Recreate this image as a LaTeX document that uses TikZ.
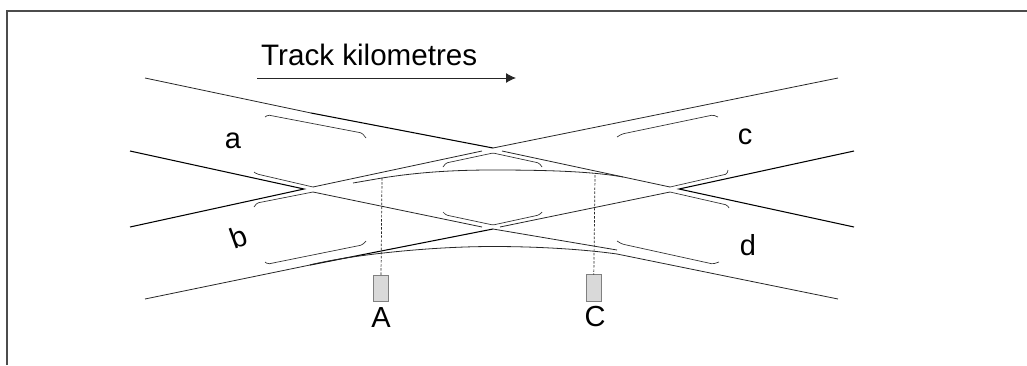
\documentclass[tikz,border=0pt]{standalone}
\usepackage{fontspec}
\setmainfont{Liberation Sans}
\usetikzlibrary{arrows.meta}
\tikzset{
  rail/.style={draw=black!85,line width=0.8pt,line join=round},
  heavyrail/.style={draw=black,line width=1.05pt,line join=miter},
  checkrail/.style={draw=black!80,line width=0.7pt,rounded corners=1.5pt},
  frameline/.style={draw=black!70,line width=1.8pt},
  signal/.style={draw=black!50,fill=black!15,line width=0.7pt,minimum width=15pt,minimum height=26.5pt,inner sep=0pt,outer sep=0pt,anchor=north west},
  drop/.style={draw=black!85,dashed,dash pattern=on 2.5pt off 1.6pt,line width=0.7pt},
  lab/.style={font=\fontsize{29}{32}\selectfont,inner sep=0pt,text=black},
  titlelab/.style={font=\fontsize{29.6}{32}\selectfont,inner sep=0pt,text=black},
  kmarrow/.style={draw=black!85,line width=1pt,-{Latex[length=10pt,width=10pt]}}
}
\begin{document}
\begin{tikzpicture}[x=1pt,y=-1pt]
\useasboundingbox (0,0) rectangle (1027,365);
% frame
\coordinate (fbl) at (7,365);
\coordinate (ftl) at (7,11);
\coordinate (ftr) at (1027,11);
\draw[frameline] (fbl) -- (ftl) -- (ftr);
% arrow and title
\coordinate (arrS) at (257,78);
\coordinate (arrE) at (516,78);
\draw[kmarrow] (arrS) -- (arrE);
\node[titlelab,anchor=base west] (title) at (261,65) {Track kilometres};
% key points
\coordinate (OTL) at (145,78);
\coordinate (OTR) at (838,78);
\coordinate (OBL) at (145,299);
\coordinate (OBR) at (838,299);
\coordinate (ILU) at (130,151);
\coordinate (ILD) at (130,227);
\coordinate (IRU) at (854,151);
\coordinate (IRD) at (854,227);
\coordinate (TL) at (304,189);
\coordinate (TR) at (679,189);
\coordinate (LXu) at (313,187);
\coordinate (LXd) at (313,192);
\coordinate (RXu) at (670,187);
\coordinate (RXd) at (670,192);
\coordinate (CTu) at (493,148);
\coordinate (CTd) at (493,153);
\coordinate (CBu) at (493,225);
\coordinate (CBd) at (493,229);
\coordinate (KTL) at (311,113);
\coordinate (KBL) at (310,265);
\coordinate (KBR) at (617,254);
\coordinate (KTR) at (623,177);
% running rails
\draw[rail] (OTL) -- (KTL);
\draw[heavyrail] (KTL) -- (CTu);
\draw[rail] (CTu) -- (OTR);
\draw[heavyrail] (ILU) -- (TL) -- (ILD);
\draw[heavyrail] (IRU) -- (TR) -- (IRD);
\draw[rail] (OBL) -- (KBL);
\draw[heavyrail] (KBL) -- (CBd);
\draw[rail] (CBd) -- (617,250);
\draw[rail] (KBR) -- (OBR);
\draw[rail] (LXu) -- (482,151);
\draw[rail] (LXd) -- (482,227);
\draw[rail] (502,151) -- (RXu);
\draw[rail] (500,227) -- (RXd);
% diverging curves
\draw[rail] (353,183) -- (382,178) .. controls (420,172) and (455,170) .. (493,170) .. controls (540,170) and (590,171) .. (KTR);
\draw[rail] (KBL) .. controls (345,256) and (425,246.5) .. (493,246.5) .. controls (540,246.5) and (585,249.5) .. (KBR);
% check rails
\draw[checkrail] (265,117) -- (268,115) -- (362,133) -- (366,138);
\draw[checkrail] (265,262) -- (268,264) -- (362,245) -- (366,241);
\draw[checkrail] (617,137) -- (622,134) -- (713,115) -- (718,117);
\draw[checkrail] (617,241) -- (622,244) -- (713,264) -- (719,262);
\draw[checkrail] (254,172) -- (257,174) -- (LXu);
\draw[checkrail] (254,207) -- (257,203) -- (LXd);
\draw[checkrail] (443,167) -- (446,163) -- (CTd) -- (539,163) -- (542,167);
\draw[checkrail] (443,212) -- (446,215) -- (CBu) -- (539,215) -- (542,212);
\draw[checkrail] (RXu) -- (727,174) -- (728,170);
\draw[checkrail] (RXd) -- (727,205) -- (729,208);
% signals
\node[signal] (sigA) at (373.5,275) {};
\node[signal] (sigC) at (586.3,274.5) {};
\coordinate (dA) at (382,178);
\coordinate (dC) at (595,175);
\draw[drop] (dA) -- (sigA.north);
\draw[drop] (dC) -- (sigC.north);
% labels
\node[lab] (la) at (233,140.5) {a};
\node[lab,rotate=20] (lb) at (239,237) {b};
\node[lab] (lc) at (745,137) {c};
\node[lab] (ld) at (748,245) {d};
\node[lab,anchor=base] (lA) at (381,327) {A};
\node[lab,anchor=base] (lC) at (595,326.5) {C};
\end{tikzpicture}
\end{document}
